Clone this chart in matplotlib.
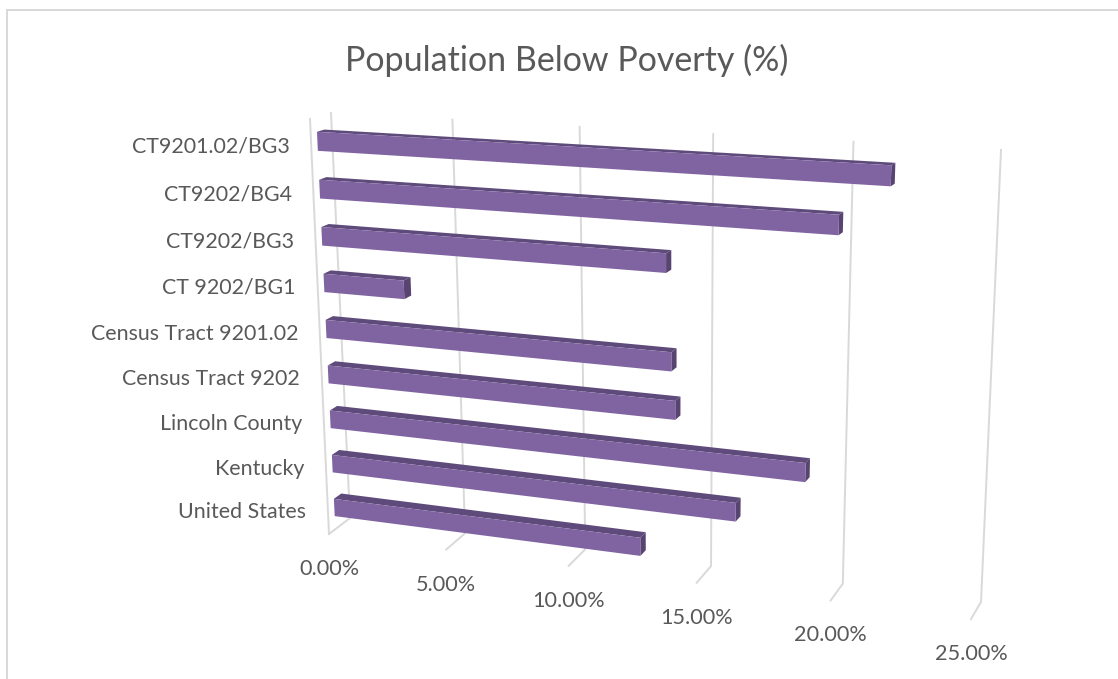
import numpy as np
import matplotlib
matplotlib.use("Agg")
import matplotlib.pyplot as plt
from matplotlib.patches import Polygon

TITLE = "Population Below Poverty (%)"
categories = ["CT9201.02/BG3", "CT9202/BG4", "CT9202/BG3", "CT 9202/BG1",
              "Census Tract 9201.02", "Census Tract 9202", "Lincoln County",
              "Kentucky", "United States"]
values = [21.6, 19.85, 13.65, 3.35, 13.85, 14.0, 18.85, 16.3, 12.65]
ticks = [0, 5, 10, 15, 20, 25]
tick_labels = ["0.00%", "5.00%", "10.00%", "15.00%", "20.00%", "25.00%"]

W, H = 1118, 679
VMAX = 25
plt.rcParams['font.family'] = ['Lato', 'DejaVu Sans']
GREY = "#595959"
GRID = "#D9D9D9"
FACE, TOP, SIDE = "#8064A2", "#5F4B7B", "#574470"


def homography(corners):
    """Map unit square (u, h) onto four pixel corners: (0,0), (1,0), (0,1), (1,1)."""
    src = [(0, 0), (1, 0), (0, 1), (1, 1)]
    A, b = [], []
    for (u, v), (x, y) in zip(src, corners):
        A.append([u, v, 1, 0, 0, 0, -u * x, -v * x]); b.append(x)
        A.append([0, 0, 0, u, v, 1, -u * y, -v * y]); b.append(y)
    return np.append(np.linalg.solve(np.array(A, float), np.array(b, float)), 1).reshape(3, 3)


WALL = homography([(331, 113), (1001, 150), (350, 518), (981, 602)])
FRONT = homography([(310, 119), (991, 157), (329, 534), (971, 619)])


def project(v, h, d):
    """Value v, height fraction h, depth d (0 back wall, 1 front of floor) to canvas."""
    p = np.array([v / VMAX, h, 1.0])
    a = WALL @ p; a = a[:2] / a[2]
    b = FRONT @ p; b = b[:2] / b[2]
    return tuple((1 - d) * a + d * b)


fig = plt.figure(figsize=(W / 100, H / 100), dpi=100)
ax = fig.add_axes([0, 0, 1, 1])
ax.set_xlim(0, W)
ax.set_ylim(H, 0)
ax.axis("off")

# chart frame: only the top and left edges fall inside the picture
ax.plot([7, 7, W], [H, 10, 10], color=GRID, lw=1.44, solid_joinstyle="miter")

ax.text(567, 60, TITLE, ha="center", va="center", fontsize=24.5, color=GREY)

# gridlines: up the wall, then forward along the floor
for t, lab in zip(ticks, tick_labels):
    pts = [project(t, 0, 0), project(t, 1, 0), project(t, 1, 1)]
    ax.plot(*zip(*pts), color=GRID, lw=1.4, zorder=1, solid_joinstyle="miter")
    x, y = project(t, 1, 1)
    ax.text(x, y + 35, lab, ha="center", va="center", fontsize=15.6, color=GREY)
ax.plot(*zip(project(0, 0, 1), project(0, 1, 1)), color=GRID, lw=1.4, zorder=1)

# bars
D_BACK, D_FRONT = 0.35, 0.70
HALF = 0.022
n = len(categories)
for i, (cat, val) in enumerate(zip(categories, values)):
    hc = (i + 0.5) / n
    h0, h1 = hc - HALF, hc + HALF
    z = 3 + i
    ax.add_patch(Polygon([project(0, h0, D_BACK), project(val, h0, D_BACK),
                          project(val, h0, D_FRONT), project(0, h0, D_FRONT)],
                         fc=TOP, ec="none", zorder=z))
    ax.add_patch(Polygon([project(val, h0, D_BACK), project(val, h1, D_BACK),
                          project(val, h1, D_FRONT), project(val, h0, D_FRONT)],
                         fc=SIDE, ec="none", zorder=z))
    ax.add_patch(Polygon([project(0, h0, D_FRONT), project(val, h0, D_FRONT),
                          project(val, h1, D_FRONT), project(0, h1, D_FRONT)],
                         fc=FACE, ec="none", zorder=z))
    x, y = project(0, hc, D_FRONT)
    ax.text(x - 28, y + 5, cat, ha="right", va="center", fontsize=15.4, color=GREY)

fig.savefig("out.png", dpi=100, facecolor="white")
